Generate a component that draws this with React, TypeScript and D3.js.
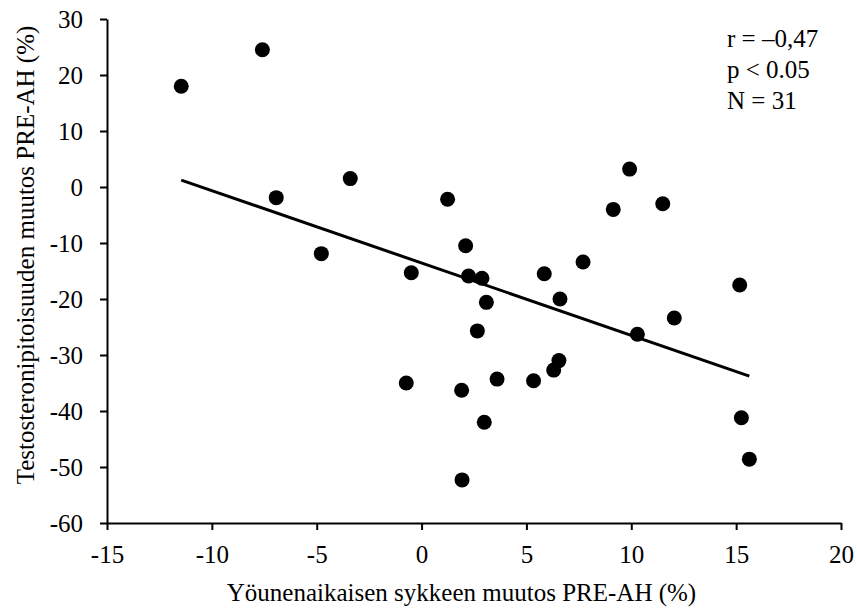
import { useEffect, useRef } from "react";
import * as d3 from "d3";

// heart rate change during sleep (%) vs testosterone change (%)
const hrChange = [
  -11.46, -7.59, -6.93, -3.4, -4.78, -0.49, -0.73, 1.24, 9.92, 9.14, 11.5,
  2.1, 2.24, 2.88, 3.09, 5.85, 7.7, 6.6, 15.17, 2.66, 10.29, 12.05, 6.55,
  6.3, 3.6, 5.34, 1.91, 2.99, 1.93, 15.25, 15.63,
];
const testoChange = [
  18.0, 24.5, -1.9, 1.5, -11.9, -15.3, -35.0, -2.2, 3.2, -4.0, -3.0, -10.5,
  -15.9, -16.3, -20.6, -15.5, -13.4, -20.0, -17.5, -25.7, -26.3, -23.4,
  -31.0, -32.7, -34.3, -34.6, -36.3, -42.0, -52.3, -41.2, -48.6,
];
const xTicks = [-15, -10, -5, 0, 5, 10, 15, 20];
const yTicks = [30, 20, 10, 0, -10, -20, -30, -40, -50, -60];
const statLines = ["r = \u20130,47", "p < 0.05", "N = 31"];

const W = 857;
const H = 610;
const FONT = "'Liberation Serif', 'Times New Roman', serif";
const FS = 25;

export default function App() {
  const ref = useRef<SVGSVGElement>(null);

  useEffect(() => {
    const svg = d3.select(ref.current);
    svg.selectAll("*").remove();

    const x = d3.scaleLinear().domain([-15, 20]).range([107, 841]);
    const y = d3.scaleLinear().domain([-60, 30]).range([523, 19]);

    // x axis
    const gx = svg
      .append("g")
      .attr("transform", `translate(0,${y(-60)})`)
      .call(
        d3.axisBottom(x).tickValues(xTicks).tickSize(7).tickSizeOuter(0)
          .tickPadding(15).tickFormat((d) => String(d))
      );
    // y axis
    const gy = svg
      .append("g")
      .attr("transform", `translate(${x(-15)},0)`)
      .call(
        d3.axisLeft(y).tickValues(yTicks).tickSize(7).tickSizeOuter(0)
          .tickPadding(17).tickFormat((d) => String(d))
      );

    [gx, gy].forEach((g) => {
      g.attr("font-family", FONT).attr("font-size", FS);
      g.select(".domain").attr("stroke", "#000").attr("stroke-width", 2);
      g.selectAll(".tick line").attr("stroke", "#000").attr("stroke-width", 2);
      g.selectAll(".tick text").attr("fill", "#000");
    });
    gy.selectAll(".tick text").attr("dy", "0.34em");

    // least squares fit
    const pts = hrChange.map((v, i) => [v, testoChange[i]] as [number, number]);
    const mx = d3.mean(hrChange)!;
    const my = d3.mean(testoChange)!;
    const sxy = d3.sum(pts, (p) => (p[0] - mx) * (p[1] - my));
    const sxx = d3.sum(pts, (p) => (p[0] - mx) ** 2);
    const b = sxy / sxx;
    const a = my - b * mx;
    const [x0, x1] = d3.extent(hrChange) as [number, number];

    svg
      .append("line")
      .attr("x1", x(x0))
      .attr("y1", y(a + b * x0))
      .attr("x2", x(x1))
      .attr("y2", y(a + b * x1))
      .attr("stroke", "#000")
      .attr("stroke-width", 3);

    svg
      .append("g")
      .selectAll("circle")
      .data(pts)
      .join("circle")
      .attr("cx", (d) => x(d[0]))
      .attr("cy", (d) => y(d[1]))
      .attr("r", 7.5)
      .attr("fill", "#000");

    // stats text
    svg
      .append("g")
      .selectAll("text")
      .data(statLines)
      .join("text")
      .attr("x", 727)
      .attr("y", (_, i) => 47 + i * 31)
      .attr("font-family", FONT)
      .attr("font-size", FS)
      .text((d) => d);

    // axis titles
    svg
      .append("text")
      .attr("x", 461.5)
      .attr("y", 601)
      .attr("text-anchor", "middle")
      .attr("font-family", FONT)
      .attr("font-size", FS)
      .text("Yöunenaikaisen sykkeen muutos PRE-AH (%)");

    svg
      .append("text")
      .attr("transform", "translate(34,255) rotate(-90)")
      .attr("text-anchor", "middle")
      .attr("font-family", FONT)
      .attr("font-size", FS)
      .text("Testosteronipitoisuuden muutos PRE-AH (%)");
  }, []);

  return (
    <svg
      ref={ref}
      width={W}
      height={H}
      style={{ position: "absolute", left: 0, top: 0, background: "#fff" }}
    />
  );
}
